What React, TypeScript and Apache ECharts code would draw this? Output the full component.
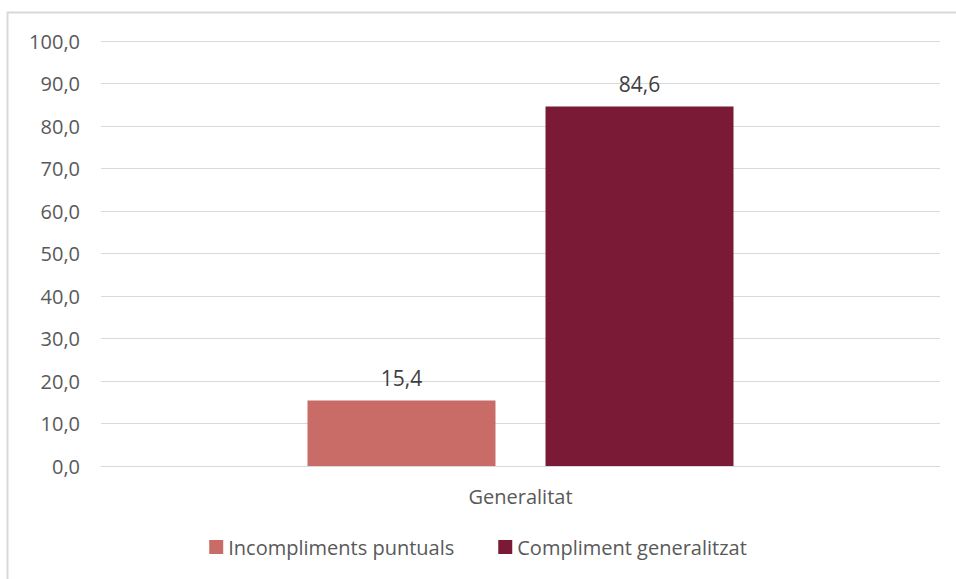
import React, { useEffect, useRef } from "react";
import * as echarts from "echarts";

const categories = ["Generalitat"];
const seriesNames = ["Incompliments puntuals", "Compliment generalitzat"];
const seriesValues = [[15.4], [84.6]];
const seriesColors = ["#C96B67", "#7A1A36"];
const yMin = 0;
const yMax = 100;
const yInterval = 10;

const fmt = (v: number) => v.toFixed(1).replace(".", ",");

export default function App() {
  const ref = useRef<HTMLDivElement>(null);
  useEffect(() => {
    if (!ref.current) return;
    const chart = echarts.init(ref.current, null, { renderer: "svg" });
    const font = "'Open Sans', 'Liberation Sans', sans-serif";
    chart.setOption({
      animation: false,
      textStyle: { fontFamily: font },
      graphic: [
        {
          type: "rect",
          shape: { x: 7.5, y: 12.5, width: 1000, height: 1000 },
          style: { fill: "none", stroke: "#D9D9D9", lineWidth: 2 },
          silent: true,
        },
      ],
      grid: { left: 101, right: 16, top: 41, bottom: 113, containLabel: false },
      legend: {
        bottom: 17,
        left: "center",
        itemWidth: 14,
        itemHeight: 14,
        itemGap: 44,
        icon: "rect",
        textStyle: { color: "#595959", fontSize: 20, fontFamily: font },
        data: seriesNames,
      },
      xAxis: {
        type: "category",
        data: categories,
        axisLine: { lineStyle: { color: "#D9D9D9", width: 1 } },
        axisTick: { show: false },
        axisLabel: { color: "#595959", fontSize: 20, margin: 20 },
      },
      yAxis: {
        type: "value",
        min: yMin,
        max: yMax,
        interval: yInterval,
        axisLine: { show: false },
        axisTick: { show: false },
        splitLine: { lineStyle: { color: "#D9D9D9", width: 1 } },
        axisLabel: { color: "#595959", fontSize: 20, margin: 21, formatter: (v: number) => fmt(v) },
      },
      series: seriesNames.map((name, i) => ({
        name,
        type: "bar",
        data: seriesValues[i],
        barWidth: 188,
        barGap: "26.6%",
        itemStyle: { color: seriesColors[i] },
        label: {
          show: true,
          position: "top",
          distance: 12,
          color: "#404040",
          fontSize: 21,
          formatter: (p: any) => fmt(p.value),
        },
      })),
    });
    return () => chart.dispose();
  }, []);
  return (
    <div
      ref={ref}
      style={{ position: "absolute", left: 0, top: 0, width: 956, height: 579, background: "#fff" }}
    />
  );
}
